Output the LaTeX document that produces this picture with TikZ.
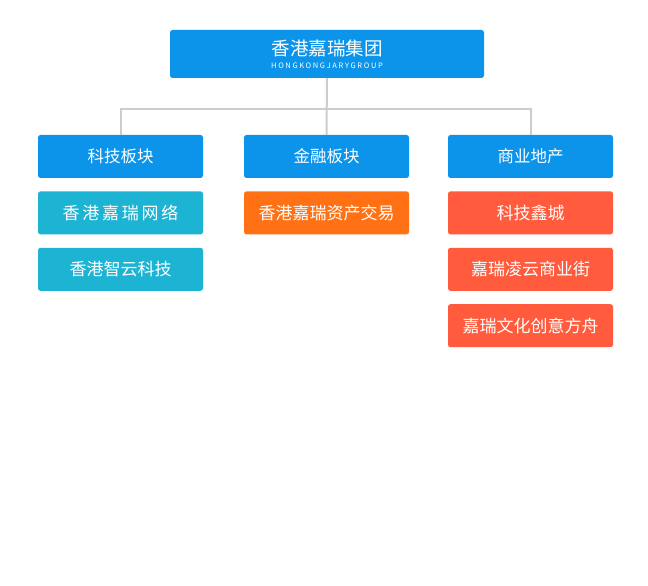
\documentclass[tikz,border=0pt]{standalone}
\usepackage{fontspec}
\setmainfont{Noto Sans CJK SC}
\usepackage{xcolor}
\usetikzlibrary{positioning}
\definecolor{boardblue}{HTML}{0C93EA}
\definecolor{netteal}{HTML}{1DB3D3}
\definecolor{finorange}{HTML}{FF7114}
\definecolor{estred}{HTML}{FF5B3C}
\definecolor{linegray}{HTML}{CCCCCC}

\begin{document}
\begin{tikzpicture}[x=1pt, y=1pt, node distance={13pt},
    box/.style = {rounded corners=2.5pt, text=white, inner sep=0pt, minimum width=165pt, minimum height=43pt, font=\fontsize{16.5}{18}\selectfont},
    main/.style = {box, fill=boardblue},
    tech/.style = {box, fill=netteal, font=\fontsize{17}{19}\selectfont},
    fin/.style = {box, fill=finorange, font=\fontsize{17}{19}\selectfont},
    est/.style = {box, fill=estred, font=\fontsize{17}{19}\selectfont},
    line/.style = {draw=linegray, line width=2pt}]
    \useasboundingbox (0,0) rectangle (648,586);
    \node[main, minimum width=314pt, minimum height=48pt, align=center] (top) at (327,532)
        {{\fontsize{18.5}{20}\selectfont 香港嘉瑞集团}\\[-5pt]
         {\addfontfeature{LetterSpace=22}\fontsize{7.5}{8}\selectfont HONGKONGJARYGROUP}};
    \node[main] (1) at (120.5,429.5) {科技板块};
    \node[main] (2) at (326.5,429.5) {金融板块};
    \node[main] (3) at (530.5,429.5) {商业地产};
    \node[tech, below=of 1] (11) {\addfontfeature{LetterSpace=16}香港嘉瑞网络};
    \node[tech, below=of 11] (12) {香港智云科技};
    \node[fin, below=of 2] (21) {香港嘉瑞资产交易};
    \node[est, below=of 3] (31) {科技鑫城};
    \node[est, below=of 31] (32) {嘉瑞凌云商业街};
    \node[est, below=of 32] (33) {嘉瑞文化创意方舟};
    \coordinate (bus) at (327,477);
    \draw[line] (top) -- (2);
    \draw[line] (1) |- (bus) -| (3);
\end{tikzpicture}
\end{document}
